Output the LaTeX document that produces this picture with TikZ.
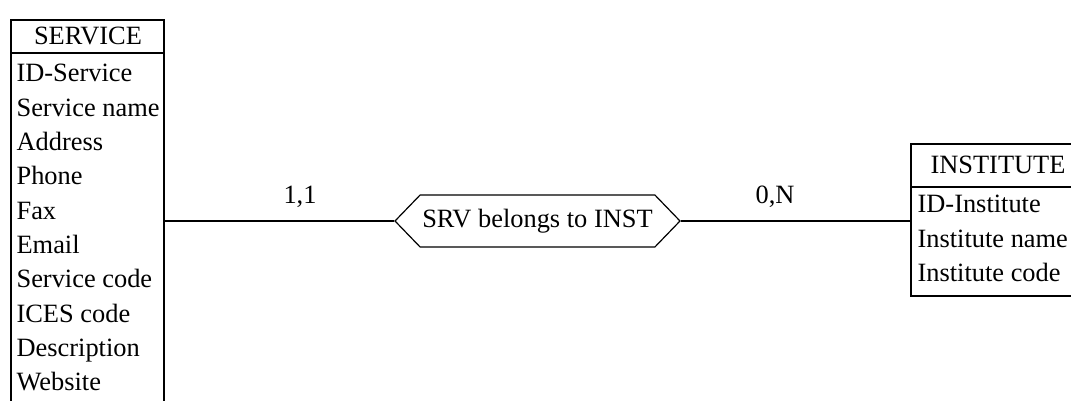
\documentclass[tikz,border=0pt]{standalone}
\usepackage{fontspec}
\setmainfont{Liberation Serif}
\usetikzlibrary{shapes.symbols}
\begin{document}
\begin{tikzpicture}[x=0.5pt,y=-0.5pt,
  font=\fontsize{13.2}{16}\selectfont,
  line width=0.6pt,
  entity/.style={draw, rectangle, inner sep=0pt},
  txt/.style={inner sep=0pt, anchor=base west},
  hdr/.style={inner sep=0pt, anchor=base},
  rel/.style={draw, signal, signal to=west and east, signal pointer angle=92, inner sep=0pt, minimum width=142.5pt, minimum height=26pt},
  card/.style={inner sep=0pt, anchor=base}]
\useasboundingbox (0,0) rectangle (1071,401);
\clip (0,0) rectangle (1071,401);
% SERVICE entity
\node[entity, minimum width=76.5pt, minimum height=205pt] (srv) at (87.5,225) {};
\draw (srv.west |- 0,53) coordinate (sh1) -- (srv.east |- 0,53) coordinate (sh2);
\node[hdr] (srvh) at (88,45) {SERVICE};
\foreach \t [count=\i from 0] in {ID-Service,Service name,Address,Phone,Fax,Email,Service code,ICES code,Description,Website}
  \node[txt] (sa\i) at (16,82+34.3*\i) {\t};
% INSTITUTE entity
\node[entity, minimum width=87pt, minimum height=76pt] (ins) at (998,220) {};
\draw (ins.west |- 0,187) coordinate (ih1) -- (ins.east |- 0,187) coordinate (ih2);
\node[hdr] (insh) at (998,174) {INSTITUTE};
\foreach \t [count=\i from 0] in {ID-Institute,Institute name,Institute code}
  \node[txt] (ia\i) at (917,213+34*\i) {\t};
% relationship
\node[rel] (r) at (537.5,221) {SRV belongs to INST};
\draw (r.west -| srv.east) -- (r.west);
\draw (r.east) -- (r.east -| ins.west);
\node[card] (c1) at (300,204) {1,1};
\node[card] (c2) at (775,204) {0,N};
\end{tikzpicture}
\end{document}
